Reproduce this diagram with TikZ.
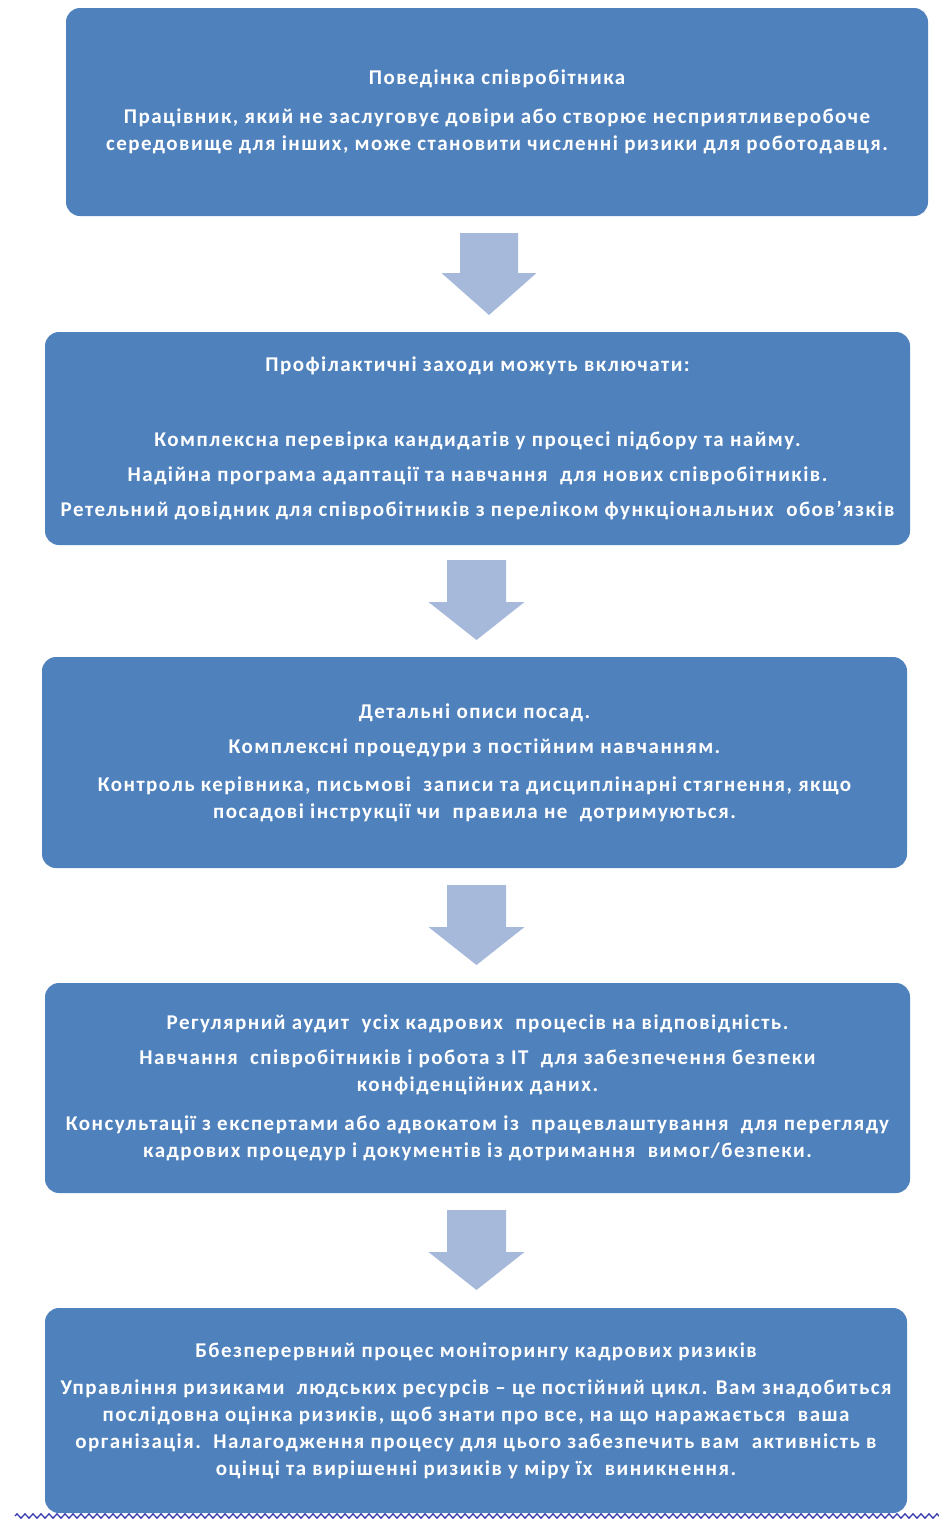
\documentclass[tikz,border=0pt]{standalone}
\usepackage{fontspec}
\setmainfont{Carlito}[LetterSpace=7]
\usetikzlibrary{calc,decorations.pathmorphing}
\definecolor{boxblue}{HTML}{4F81BD}
\definecolor{arrowblue}{HTML}{A7B9DB}
\definecolor{squiggle}{HTML}{3A3FB0}
\tikzset{
  stage/.style={fill=boxblue, rounded corners=14pt, text=white, align=center,
    font=\fontsize{21}{27}\selectfont\bfseries, inner sep=0pt},
  blockarrow/.style={fill=arrowblue}
}
\begin{document}
\begin{tikzpicture}[x=1pt,y=-1pt]
\useasboundingbox[fill=white] (0,0) rectangle (939,1519);

\node[stage, minimum width=862pt, minimum height=208pt] (b1) at (497,112)
 {Поведінка співробітника\\[12pt]
  Працівник, який не заслуговує довіри або створює несприятливеробоче\\
  середовище для інших, може становити численні ризики для роботодавця.};

\node[stage, minimum width=865pt, minimum height=213pt] (b2) at (477.5,438.5)
 {Профілактичні заходи можуть включати:\\[48pt]
  Комплексна перевірка кандидатів у процесі підбору та найму.\\[8pt]
  Надійна програма адаптації та навчання\ \ для нових співробітників.\\[8pt]
  Ретельний довідник для співробітників з переліком функціональних\ \ обов'язків};

\node[stage, minimum width=865pt, minimum height=211pt] (b3) at (474.5,762.5)
 {Детальні описи посад.\\[8pt]
  Комплексні процедури з постійним навчанням.\\[11pt]
  Контроль керівника, письмові\ \ записи та дисциплінарні стягнення, якщо\\
  посадові інструкції чи\ \ правила не\ \ дотримуються.};

\node[stage, minimum width=865pt, minimum height=210pt] (b4) at (477.5,1088)
 {Регулярний аудит\ \ усіх кадрових\ \ процесів на відповідність.\\[8pt]
  Навчання\ \ співробітників і робота з ІТ\ \ для забезпечення безпеки\\
  конфіденційних даних.\\[12pt]
  Консультації з експертами або адвокатом із\ \ працевлаштування\ \ для перегляду\\
  кадрових процедур і документів із дотримання\ \ вимог/безпеки.};

\node[stage, minimum width=862pt, minimum height=205pt] (b5) at (476,1410.5)
 {Ббезперервний процес моніторингу кадрових ризиків\\[10pt]
  Управління ризиками\ \ людських ресурсів – це постійний цикл. Вам знадобиться\\
  послідовна оцінка ризиків, щоб знати про все, на що наражається\ \ ваша\\
  організація.\ \ Налагодження процесу для цього забезпечить вам\ \ активність в\\
  оцінці та вирішенні ризиків у міру їх\ \ виникнення.};

% block arrows between the stages
\coordinate (a1) at (489,233);
\coordinate (a2) at (476.5,560);
\coordinate (a3) at (476.5,885);
\coordinate (a4) at (476.5,1210);
\fill[blockarrow] ([shift={(-29,0)}]a1) -- ([shift={(29,0)}]a1) -- ([shift={(29,40)}]a1)
  -- ([shift={(47.5,40)}]a1) -- ([shift={(0,82)}]a1) -- ([shift={(-47.5,40)}]a1)
  -- ([shift={(-29,40)}]a1) -- cycle;
\foreach \a in {a2,a3,a4}{
  \fill[blockarrow] ([shift={(-29.5,0)}]\a) -- ([shift={(29.5,0)}]\a) -- ([shift={(29.5,42)}]\a)
    -- ([shift={(48,42)}]\a) -- ([shift={(0,80)}]\a) -- ([shift={(-48,42)}]\a)
    -- ([shift={(-29.5,42)}]\a) -- cycle;
}

% wavy underline at the bottom
\coordinate (z1) at (15,1516);
\coordinate (z2) at (945,1516);
\draw[squiggle, line width=1.3pt, decorate,
  decoration={zigzag, segment length=8pt, amplitude=2.2pt}] (z1) -- (z2);
\end{tikzpicture}
\end{document}
